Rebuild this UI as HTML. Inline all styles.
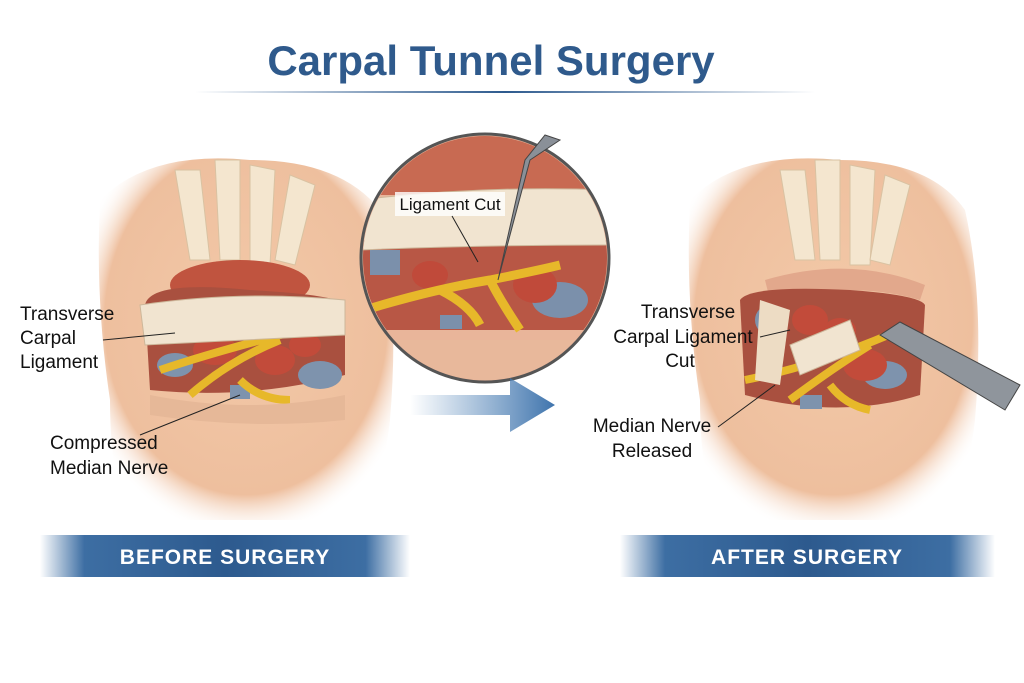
<!DOCTYPE html>
<html><head><meta charset="utf-8"><style>
html,body{margin:0;padding:0;background:#fff;}
svg{display:block;}
text{font-family:"Liberation Sans",sans-serif;}
</style></head><body>
<svg width="1024" height="683" viewBox="0 0 1024 683" xmlns="http://www.w3.org/2000/svg">
<defs>
<linearGradient id="ban" x1="0" x2="1"><stop offset="0" stop-color="#3d6ea3" stop-opacity="0"/><stop offset="0.12" stop-color="#3d6ea3"/><stop offset="0.5" stop-color="#2d5a8e"/><stop offset="0.88" stop-color="#3d6ea3"/><stop offset="1" stop-color="#3d6ea3" stop-opacity="0"/></linearGradient>
<linearGradient id="arr" x1="0" x2="1"><stop offset="0" stop-color="#4a7fb5" stop-opacity="0"/><stop offset="1" stop-color="#3f74ad"/></linearGradient>
<radialGradient id="skin" cx="0.5" cy="0.45" r="0.6"><stop offset="0" stop-color="#f3c9a8"/><stop offset="0.8" stop-color="#eebf9e"/><stop offset="1" stop-color="#fff" stop-opacity="0"/></radialGradient>
<linearGradient id="line" x1="0" x2="1"><stop offset="0" stop-color="#2d5a8e" stop-opacity="0"/><stop offset="0.5" stop-color="#2d5a8e"/><stop offset="1" stop-color="#2d5a8e" stop-opacity="0"/></linearGradient>
</defs>
<text x="491" y="75" text-anchor="middle" font-size="42" font-weight="bold" fill="#2f5a8c">Carpal Tunnel Surgery</text>
<rect x="195" y="91" width="620" height="2" fill="url(#line)"/>

<path d="M100 200 Q150 150 250 160 Q340 160 380 210 Q400 300 390 420 Q380 500 360 520 L130 520 Q110 480 110 400 Q95 300 100 200Z" fill="url(#skin)"/>
<g fill="#f4e6cf" stroke="#d9c2a2"><path d="M175 170 l25 0 l10 90 l-20 0z"/><path d="M215 160 l25 0 l0 100 l-20 0z"/><path d="M250 165 l25 5 l-5 95 l-20 0z"/><path d="M290 175 l25 10 l-20 80 l-20 -5z"/></g>
<ellipse cx="240" cy="285" rx="70" ry="25" fill="#c0543f"/>
<path d="M145 305 Q150 280 250 290 Q340 295 345 305 L345 375 Q250 400 150 390Z" fill="#a9503f"/>
<g fill="#7e93ad"><ellipse cx="175" cy="365" rx="18" ry="12"/><ellipse cx="320" cy="375" rx="22" ry="14"/><rect x="230" y="385" width="20" height="14"/></g>
<g fill="#c24b3a"><ellipse cx="215" cy="350" rx="22" ry="15"/><ellipse cx="275" cy="360" rx="20" ry="15"/><ellipse cx="305" cy="345" rx="16" ry="12"/></g>
<path d="M160 370 Q220 350 300 330 M190 395 Q230 360 280 340 M240 380 Q260 400 290 400" stroke="#e7b82a" stroke-width="8" fill="none"/>
<path d="M140 305 Q240 290 345 300 L345 335 Q240 340 145 345Z" fill="#f1e4d0" stroke="#cdb79a"/>
<path d="M150 395 Q250 415 345 395 L345 420 Q250 430 150 415Z" fill="#e6b898"/>

<circle cx="485" cy="258" r="124" fill="#e9b59a" stroke="#555" stroke-width="3"/>
<clipPath id="cc"><circle cx="485" cy="258" r="122"/></clipPath>
<g clip-path="url(#cc)">
<rect x="360" y="135" width="250" height="60" fill="#c86a52"/>
<rect x="360" y="240" width="250" height="90" fill="#b85745"/>
<g fill="#7b90ab"><rect x="370" y="250" width="30" height="25"/><ellipse cx="560" cy="300" rx="28" ry="18"/><rect x="440" y="315" width="22" height="14"/></g>
<g fill="#c04a3a"><ellipse cx="535" cy="285" rx="22" ry="18"/><ellipse cx="430" cy="275" rx="18" ry="14"/></g>
<path d="M365 310 Q430 290 490 280 Q540 270 560 265 M490 280 Q500 300 520 330 M440 290 Q470 305 480 325" stroke="#e7b82a" stroke-width="9" fill="none"/>
<path d="M360 200 Q480 185 610 190 L610 245 Q480 245 360 250Z" fill="#f1e4d0" stroke="#cdb79a"/>
<rect x="360" y="340" width="250" height="50" fill="#e8b89b"/>
</g>
<path d="M498 280 L525 160 L545 135 L560 140 L530 160 Z" fill="#8a9098" stroke="#444"/>
<rect x="395" y="192" width="110" height="24" fill="#fff" opacity="0.8"/>
<text x="450" y="210" text-anchor="middle" font-size="17" fill="#111">Ligament Cut</text>
<line x1="452" y1="216" x2="478" y2="262" stroke="#222" stroke-width="1"/>

<path d="M410 395 L510 395 L510 378 L555 405 L510 432 L510 415 L410 415Z" fill="url(#arr)"/>

<path d="M690 200 Q740 150 840 160 Q930 160 965 210 Q985 300 975 420 Q965 500 945 520 L720 520 Q700 480 700 400 Q685 300 690 200Z" fill="url(#skin)"/>
<g fill="#f4e6cf" stroke="#d9c2a2"><path d="M780 170 l25 0 l10 90 l-20 0z"/><path d="M815 160 l25 0 l0 100 l-20 0z"/><path d="M850 165 l25 5 l-5 95 l-20 0z"/><path d="M885 175 l25 10 l-20 80 l-20 -5z"/></g>
<path d="M765 280 Q850 255 925 285 L920 300 Q850 280 770 300Z" fill="#e2a88c"/>
<path d="M740 300 Q750 285 850 290 Q920 295 925 305 L920 395 Q840 420 745 395Z" fill="#a9503f"/>
<g fill="#7e93ad"><ellipse cx="770" cy="320" rx="15" ry="15"/><ellipse cx="885" cy="375" rx="22" ry="14"/><rect x="800" y="395" width="22" height="14"/></g>
<g fill="#c24b3a"><ellipse cx="810" cy="320" rx="18" ry="15"/><ellipse cx="865" cy="365" rx="22" ry="16"/><ellipse cx="840" cy="330" rx="16" ry="12"/></g>
<path d="M745 380 Q820 365 900 330 M790 400 Q830 370 870 345 M830 385 Q845 405 870 410" stroke="#e7b82a" stroke-width="8" fill="none"/>
<path d="M790 345 L850 320 L860 350 L800 375Z" fill="#f1e4d0" stroke="#cdb79a"/>
<path d="M760 300 L790 310 L780 385 L755 380Z" fill="#eddcc4"/>
<path d="M880 335 L900 322 L1020 385 L1005 410 Z" fill="#8f959c" stroke="#444"/>

<g font-size="19" fill="#111">
<text x="20" y="320">Transverse</text><text x="20" y="344">Carpal</text><text x="20" y="368">Ligament</text>
<text x="50" y="449">Compressed</text><text x="50" y="474">Median Nerve</text>
<text x="688" y="318" text-anchor="middle">Transverse</text><text x="683" y="343" text-anchor="middle">Carpal Ligament</text><text x="680" y="367" text-anchor="middle">Cut</text>
<text x="652" y="432" text-anchor="middle">Median Nerve</text><text x="652" y="457" text-anchor="middle">Released</text>
</g>
<g stroke="#222" stroke-width="1" fill="none">
<line x1="103" y1="340" x2="175" y2="333"/>
<line x1="140" y1="435" x2="240" y2="395"/>
<line x1="760" y1="337" x2="790" y2="330"/>
<line x1="718" y1="427" x2="775" y2="385"/>
</g>

<rect x="40" y="535" width="370" height="42" fill="url(#ban)"/>
<text x="225" y="564" text-anchor="middle" font-size="21" font-weight="bold" fill="#fff" letter-spacing="1">BEFORE SURGERY</text>
<rect x="620" y="535" width="375" height="42" fill="url(#ban)"/>
<text x="807" y="564" text-anchor="middle" font-size="21" font-weight="bold" fill="#fff" letter-spacing="1">AFTER SURGERY</text>
</svg>
</body></html>
